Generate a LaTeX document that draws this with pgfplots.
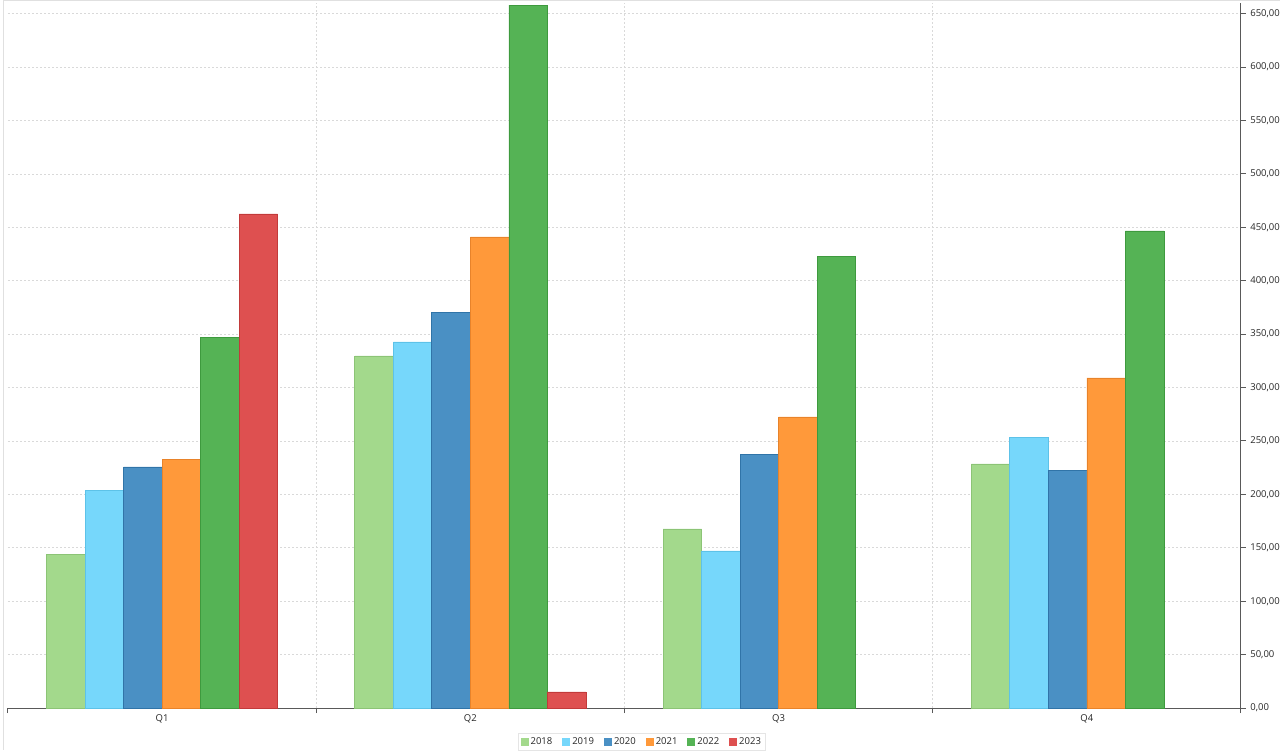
\documentclass[border=0pt]{standalone}
\usepackage{fontspec}
\setmainfont{Open Sans}
\usepackage{pgfplots}
\pgfplotsset{compat=1.18}
\definecolor{c18}{HTML}{A3D98C}\definecolor{c18d}{HTML}{8CC476}
\definecolor{c19}{HTML}{76D7FB}\definecolor{c19d}{HTML}{5DC2E8}
\definecolor{c20}{HTML}{4A90C4}\definecolor{c20d}{HTML}{3074A8}
\definecolor{c21}{HTML}{FF993A}\definecolor{c21d}{HTML}{E8832A}
\definecolor{c22}{HTML}{55B355}\definecolor{c22d}{HTML}{3E9A3E}
\definecolor{c23}{HTML}{DE5050}\definecolor{c23d}{HTML}{C23A3A}
\begin{document}
\fontsize{9.5}{11}\selectfont
\begin{tikzpicture}
\useasboundingbox (0,0) rectangle (1280pt,750pt);
\draw[black!12, line width=1pt] (3pt,0pt) -- (3pt,749pt) -- (1280pt,749pt);
\begin{axis}[
  at={(8pt,42pt)}, anchor=south west,
  scale only axis, width=1233pt, height=705pt,
  xmin=-0.5, xmax=3.5, ymin=0, ymax=660,
  ybar, bar width=0.125,
  axis x line*=bottom, axis y line*=right,
  axis line style={-, draw=black!65, line width=1pt},
  tick align=outside,
  major tick length=5pt,
  minor tick length=5pt,
  tick style={draw=black!65, line width=1pt},
  ytick={0,50,...,650},
  ytick pos=right,
  yticklabel style={/pgf/number format/.cd, fixed, fixed zerofill, precision=2, use comma, 1000 sep={}, assume math mode=true, /tikz/.cd, text=black!85, xshift=1pt},
  xtick={0.5,1.5,2.5},
  xticklabels={,,},
  minor xtick={-0.5,3.5},
  extra x ticks={0,1,2,3},
  extra x tick labels={Q1,Q2,Q3,Q4},
  extra x tick style={major tick length=0pt, grid=none, xticklabel style={text=black!85, yshift=-3pt}},
  xmajorgrids=true, ymajorgrids=true, xminorgrids=false,
  grid style={draw=black!15, line width=0.8pt, dash pattern=on 2pt off 2pt},
  legend columns=6,
  legend style={at={(axis description cs:0.514,-0.048)}, anchor=center, draw=black!10, font=\fontsize{9.5}{11}\selectfont, text=black!85, inner sep=2pt,
    /tikz/every even column/.append style={column sep=8pt}},
  legend image code/.code={\path[#1, draw=none] (0pt,-4pt) rectangle (8pt,4pt);},
]
\addplot[fill=c18, draw=c18d, line width=0.7pt, bar shift=-0.3125] coordinates {(0,144) (1,329.6) (2,167.6) (3,228.5)};
\addplot[fill=c19, draw=c19d, line width=0.7pt, bar shift=-0.1875] coordinates {(0,204) (1,342.7) (2,147) (3,253.7)};
\addplot[fill=c20, draw=c20d, line width=0.7pt, bar shift=-0.0625] coordinates {(0,225.7) (1,370) (2,237) (3,222.8)};
\addplot[fill=c21, draw=c21d, line width=0.7pt, bar shift=0.0625] coordinates {(0,233) (1,441) (2,272.5) (3,309)};
\addplot[fill=c22, draw=c22d, line width=0.7pt, bar shift=0.1875] coordinates {(0,347) (1,658) (2,423) (3,446.6)};
\addplot[fill=c23, draw=c23d, line width=0.7pt, bar shift=0.3125] coordinates {(0,462.5) (1,15)};
\legend{2018,2019,2020,2021,2022,2023}
\end{axis}
\end{tikzpicture}
\end{document}
